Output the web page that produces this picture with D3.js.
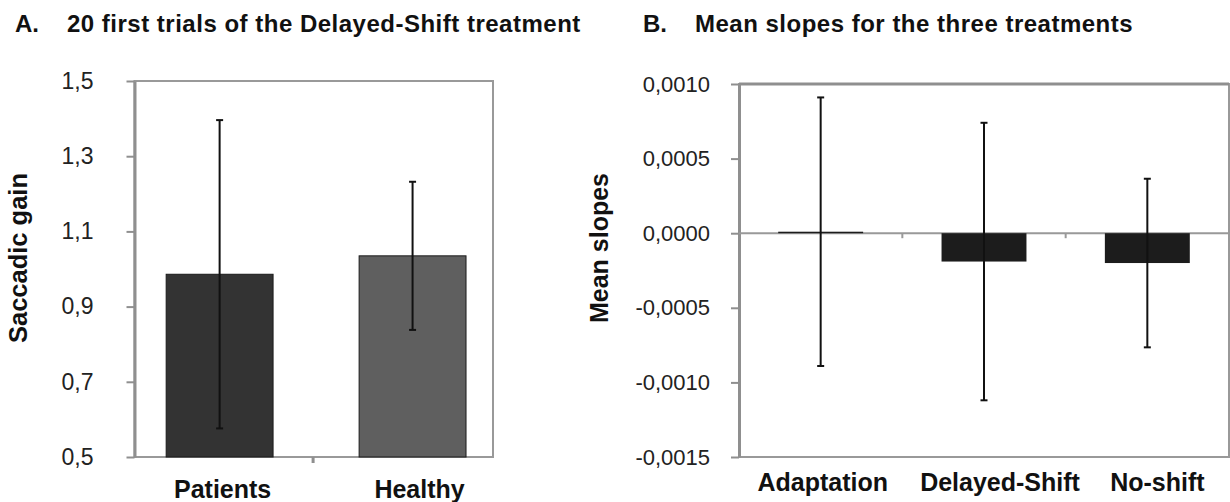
<!DOCTYPE html>
<html>
<head>
<meta charset="utf-8">
<script src="https://cdn.jsdelivr.net/npm/d3@7"></script>
<style>
  body { margin: 0; background: #fff; }
  text { font-family: "Liberation Sans", Arial, sans-serif; }
</style>
</head>
<body>
<svg id="chart" width="1230" height="502"></svg>
<script>
// Panel A: saccadic gain, 20 first trials of Delayed-Shift
const groups = ['Patients', 'Healthy'];
const gainMeans = [0.986, 1.035];
const gainErrors = [0.41, 0.197];
const gainTicks = [0.5, 0.7, 0.9, 1.1, 1.3, 1.5];
const groupColors = ['#333333', '#5f5f5f'];

// Panel B: mean slopes for the three treatments
const treatments = ['Adaptation', 'Delayed-Shift', 'No-shift'];
const slopeMeans = [0.00001, -0.00019, -0.0002];
const slopeErrors = [0.0009, 0.00093, 0.000565];
const slopeTicks = [-0.0015, -0.001, -0.0005, 0, 0.0005, 0.001];

// small label nudges (px) to mimic the original label placement
const labelNudgeA = [3, 7];
const labelNudgeB = [2, 16, 10];

const svg = d3.select('#chart');
const loc = d3.formatLocale({ decimal: ',', thousands: ' ', grouping: [3], currency: ['', ''], minus: '-' });
const frameColor = '#8f8f8f';

// panel titles
function title(x1, x2, letter, txt) {
    svg.append('text').attr('x', x1).attr('y', 32).attr('font-size', 24).attr('font-weight', 'bold')
        .attr('fill', '#111').text(letter);
    svg.append('text').attr('x', x2).attr('y', 32).attr('font-size', 24).attr('font-weight', 'bold')
        .attr('letter-spacing', 0.5).attr('fill', '#111').text(txt);
}
title(15, 67, 'A.', '20 first trials of the Delayed-Shift treatment');
title(643, 695, 'B.', 'Mean slopes for the three treatments');

// ---------- Panel A ----------
const a = { left: 134.5, right: 493, top: 81, bottom: 457 };
const xA = d3.scaleBand().domain(groups).range([a.left, a.right])
    .paddingInner(0.446).paddingOuter(0.152).align(0.54);
const yA = d3.scaleLinear().domain([0.5, 1.5]).range([a.bottom, a.top]);

svg.append('rect')
    .attr('x', a.left).attr('y', a.top)
    .attr('width', a.right - a.left).attr('height', a.bottom - a.top)
    .attr('fill', 'none').attr('stroke', '#999').attr('stroke-width', 2);

// boundary tick between the two categories
const midA = (xA(groups[0]) + xA.bandwidth() + xA(groups[1])) / 2 - 3;
svg.append('line')
    .attr('x1', midA).attr('x2', midA)
    .attr('y1', a.bottom).attr('y2', a.bottom + 6)
    .attr('stroke', frameColor).attr('stroke-width', 3);

const yAxisA = svg.append('g')
    .attr('transform', `translate(${a.left},0)`)
    .call(d3.axisLeft(yA).tickValues(gainTicks).tickFormat(loc.format('.1f'))
        .tickSize(8).tickSizeOuter(0).tickPadding(33));
yAxisA.attr('font-family', null).attr('font-size', null);
yAxisA.select('.domain').attr('stroke', frameColor).attr('stroke-width', 3);
yAxisA.selectAll('.tick line').attr('stroke', frameColor).attr('stroke-width', 2);
yAxisA.selectAll('.tick text').attr('font-size', 23).attr('fill', '#222');

const xAxisA = svg.append('g')
    .attr('transform', `translate(0,${a.bottom})`)
    .call(d3.axisBottom(xA).tickSize(0).tickPadding(23));
xAxisA.attr('font-family', null).attr('font-size', null);
xAxisA.select('.domain').remove();
xAxisA.selectAll('.tick text').attr('font-size', 25).attr('font-weight', 'bold').attr('fill', '#111')
    .attr('dx', (d, i) => labelNudgeA[i]);

svg.append('g').selectAll('rect')
    .data(groups)
    .join('rect')
    .attr('x', d => xA(d))
    .attr('y', (d, i) => yA(gainMeans[i]))
    .attr('width', xA.bandwidth())
    .attr('height', (d, i) => yA(0.5) - yA(gainMeans[i]))
    .attr('fill', (d, i) => groupColors[i])
    .attr('stroke', '#1a1a1a').attr('stroke-width', 1);

function errorBars(data, xs, ys, means, errs, width) {
    const g = svg.append('g').attr('stroke', '#111').attr('stroke-width', width);
    data.forEach((d, i) => {
        const cx = xs(d) + xs.bandwidth() / 2;
        const hi = ys(means[i] + errs[i]);
        const lo = ys(means[i] - errs[i]);
        g.append('line').attr('x1', cx).attr('x2', cx).attr('y1', hi).attr('y2', lo);
        g.append('line').attr('x1', cx - 3.5).attr('x2', cx + 3.5).attr('y1', hi).attr('y2', hi);
        g.append('line').attr('x1', cx - 3.5).attr('x2', cx + 3.5).attr('y1', lo).attr('y2', lo);
    });
}
errorBars(groups, xA, yA, gainMeans, gainErrors, 2);

svg.append('text')
    .attr('transform', 'translate(27,258) rotate(-90)')
    .attr('text-anchor', 'middle').attr('font-size', 25.5).attr('font-weight', 'bold').attr('fill', '#111')
    .text('Saccadic gain');

// ---------- Panel B ----------
const b = { left: 739, right: 1229, top: 84, bottom: 457 };
const xB = d3.scaleBand().domain(treatments).range([b.left, b.right]).paddingInner(0.48).paddingOuter(0.24);
const yB = d3.scaleLinear().domain([-0.0015, 0.001]).range([b.bottom, b.top]);

svg.append('rect')
    .attr('x', b.left).attr('y', b.top)
    .attr('width', b.right - b.left).attr('height', b.bottom - b.top)
    .attr('fill', 'none').attr('stroke', '#999').attr('stroke-width', 2);
svg.append('line')
    .attr('x1', b.left).attr('x2', b.right).attr('y1', b.top).attr('y2', b.top)
    .attr('stroke', frameColor).attr('stroke-width', 3);

const yAxisB = svg.append('g')
    .attr('transform', `translate(${b.left},0)`)
    .call(d3.axisLeft(yB).tickValues(slopeTicks).tickFormat(loc.format('.4f'))
        .tickSize(8).tickSizeOuter(0).tickPadding(21));
yAxisB.attr('font-family', null).attr('font-size', null);
yAxisB.select('.domain').attr('stroke', frameColor).attr('stroke-width', 3);
yAxisB.selectAll('.tick line').attr('stroke', frameColor).attr('stroke-width', 2);
yAxisB.selectAll('.tick text').attr('font-size', 22).attr('fill', '#222');

const xAxisB = svg.append('g')
    .attr('transform', `translate(0,${b.bottom})`)
    .call(d3.axisBottom(xB).tickSize(0).tickPadding(16));
xAxisB.attr('font-family', null).attr('font-size', null);
xAxisB.select('.domain').remove();
xAxisB.selectAll('.tick text').attr('font-size', 25).attr('font-weight', 'bold').attr('fill', '#111')
    .attr('dx', (d, i) => labelNudgeB[i]);

// zero line with category boundary ticks
svg.append('line')
    .attr('x1', b.left).attr('x2', b.right).attr('y1', yB(0)).attr('y2', yB(0))
    .attr('stroke', '#999').attr('stroke-width', 2);
svg.append('g').selectAll('line')
    .data(treatments.slice(1))
    .join('line')
    .attr('x1', d => xB(d) - xB.step() * xB.paddingInner() / 2)
    .attr('x2', d => xB(d) - xB.step() * xB.paddingInner() / 2)
    .attr('y1', yB(0)).attr('y2', yB(0) + 5)
    .attr('stroke', '#999').attr('stroke-width', 2);

svg.append('g').selectAll('rect')
    .data(treatments)
    .join('rect')
    .attr('x', d => xB(d))
    .attr('y', (d, i) => yB(Math.max(0, slopeMeans[i])))
    .attr('width', xB.bandwidth())
    .attr('height', (d, i) => Math.abs(yB(slopeMeans[i]) - yB(0)))
    .attr('fill', '#1c1c1c');

errorBars(treatments, xB, yB, slopeMeans, slopeErrors, 2);

svg.append('text')
    .attr('transform', 'translate(608,248) rotate(-90)')
    .attr('text-anchor', 'middle').attr('font-size', 25).attr('font-weight', 'bold').attr('fill', '#111')
    .text('Mean slopes');
</script>
</body>
</html>
